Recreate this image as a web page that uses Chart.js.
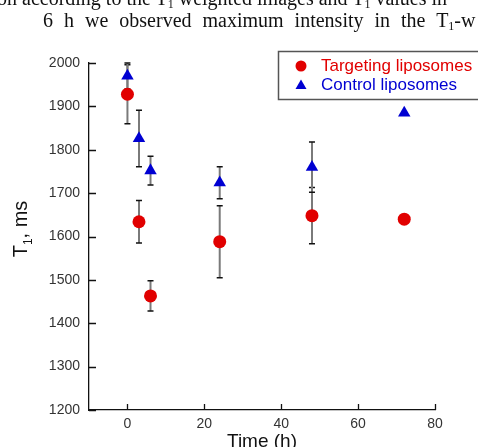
<!DOCTYPE html>
<html>
<head>
<meta charset="utf-8">
<script src="https://cdn.jsdelivr.net/npm/chart.js@4/dist/chart.umd.min.js"></script>
<style>
  html, body { margin: 0; padding: 0; background: #fff; }
  #wrap { position: relative; width: 478px; height: 447px; overflow: hidden; }
  #wrap canvas { position: absolute; left: 0; top: 0; }
  .txt { position: absolute; white-space: nowrap; font-family: "Liberation Serif", "Times New Roman", serif;
         font-size: 20px; color: #111; line-height: 20px; }
  .txt sub { font-size: 12px; vertical-align: -3px; line-height: 0; }
</style>
</head>
<body>
<div id="wrap">
  <canvas id="chart" width="478" height="447"></canvas>
  <div class="txt" id="line1" style="left:-3px; top:-12px;">on according to the T<sub>1</sub> weighted images and T<sub>1</sub> values in</div>
  <div class="txt" id="line2" style="left:43px; top:10px; word-spacing:6px;">6 h we observed maximum intensity in the T<sub>1</sub>-w</div>
</div>
<script>
// --- dados ---
const times = [0, 3, 6, 24, 48, 72];
const targeting = [1928, 1634, 1463, 1588, 1648, 1640];
const targetingErr = [68, 49, 35, 83, 65, 0];
const control = [1970, 1826, 1752, 1724, 1760, 1885];
const controlErr = [30, 65, 33, 37, 58, 0];
const xTicks = [0, 20, 40, 60, 80];
const yTicks = [1200, 1300, 1400, 1500, 1600, 1700, 1800, 1900, 2000];

const RED = "#e10000";
const BLUE = "#0000d2";
const FONT = "'Liberation Sans', Arial, sans-serif";

const toPoints = (ys) => times.map((t, i) => ({ x: t, y: ys[i] }));

// barras de erro, atrás dos marcadores
const errorBars = {
  id: "errorBars",
  beforeDatasetsDraw(chart) {
    const { ctx, scales: { x, y } } = chart;
    const sets = [[targeting, targetingErr], [control, controlErr]];
    ctx.save();
    sets.forEach(([vals, errs]) => {
      vals.forEach((v, i) => {
        if (!errs[i]) return;
        const px = x.getPixelForValue(times[i]);
        const top = y.getPixelForValue(v + errs[i]);
        const bot = y.getPixelForValue(v - errs[i]);
        ctx.strokeStyle = "#7a7a7a";
        ctx.lineWidth = 2;
        ctx.beginPath();
        ctx.moveTo(px, top); ctx.lineTo(px, bot);
        ctx.stroke();
        ctx.strokeStyle = "#111";
        ctx.lineWidth = 1.5;
        ctx.beginPath();
        ctx.moveTo(px - 3, top); ctx.lineTo(px + 3, top);
        ctx.moveTo(px - 3, bot); ctx.lineTo(px + 3, bot);
        ctx.stroke();
      });
    });
    ctx.restore();
  }
};

// ticks para dentro, títulos dos eixos e legenda
const decorations = {
  id: "decorations",
  afterDraw(chart) {
    const { ctx, scales: { x, y }, chartArea: a } = chart;
    ctx.save();
    ctx.strokeStyle = "#111";
    ctx.lineWidth = 1.3;
    ctx.beginPath();
    yTicks.forEach(v => {
      const py = Math.round(y.getPixelForValue(v)) + 0.5;
      ctx.moveTo(a.left, py); ctx.lineTo(a.left + 7, py);
    });
    xTicks.forEach(v => {
      const px = Math.round(x.getPixelForValue(v)) + 0.5;
      ctx.moveTo(px, a.bottom); ctx.lineTo(px, a.bottom - 6);
    });
    ctx.stroke();

    // título x
    ctx.fillStyle = "#111";
    ctx.font = "19px " + FONT;
    ctx.textAlign = "center";
    ctx.textBaseline = "alphabetic";
    ctx.fillText("Time (h)", 262, 447);

    // título y com subscrito
    ctx.translate(27, 229);
    ctx.rotate(-Math.PI / 2);
    ctx.textAlign = "left";
    ctx.font = "20px " + FONT;
    const wT = ctx.measureText("T").width;
    ctx.font = "12px " + FONT;
    const w1 = ctx.measureText("1").width;
    ctx.font = "20px " + FONT;
    const wR = ctx.measureText(", ms").width;
    let sx = -(wT + w1 + wR) / 2;
    ctx.fillText("T", sx, 0);
    ctx.font = "12px " + FONT;
    ctx.fillText("1", sx + wT, 5);
    ctx.font = "20px " + FONT;
    ctx.fillText(", ms", sx + wT + w1, 0);
    ctx.setTransform(1, 0, 0, 1, 0, 0);

    // legenda
    ctx.fillStyle = "#fff";
    ctx.fillRect(278, 51, 210, 49);
    ctx.strokeStyle = "#555";
    ctx.lineWidth = 1.5;
    ctx.strokeRect(278.5, 51.5, 210, 48);
    ctx.fillStyle = RED;
    ctx.beginPath();
    ctx.arc(301, 66, 5.5, 0, Math.PI * 2);
    ctx.fill();
    ctx.fillStyle = BLUE;
    ctx.beginPath();
    ctx.moveTo(301, 79.5); ctx.lineTo(306.5, 89); ctx.lineTo(295.5, 89);
    ctx.closePath();
    ctx.fill();
    ctx.font = "17px " + FONT;
    ctx.textAlign = "left";
    ctx.textBaseline = "middle";
    ctx.fillStyle = RED;
    ctx.fillText(chart.data.datasets[0].label, 321, 66);
    ctx.fillStyle = BLUE;
    ctx.fillText(chart.data.datasets[1].label, 321, 85);
    ctx.restore();
  }
};

new Chart(document.getElementById("chart"), {
  type: "scatter",
  data: {
    datasets: [
      { label: "Targeting liposomes", data: toPoints(targeting), pointStyle: "circle",
        pointRadius: 6.5, backgroundColor: RED, borderColor: RED, borderWidth: 0, clip: false },
      { label: "Control liposomes", data: toPoints(control), pointStyle: "triangle",
        pointRadius: 7.2, backgroundColor: BLUE, borderColor: BLUE, borderWidth: 0, clip: false }
    ]
  },
  options: {
    responsive: false,
    animation: false,
    events: [],
    layout: { padding: { left: 0, top: 63, right: 43, bottom: 0 } },
    plugins: { legend: { display: false }, tooltip: { enabled: false } },
    scales: {
      x: {
        type: "linear", min: -10, max: 80,
        afterBuildTicks: s => { s.ticks = xTicks.map(v => ({ value: v })); },
        afterFit: s => { s.height = 37; },
        grid: { display: false, drawTicks: false },
        border: { display: true, color: "#111", width: 1.3 },
        ticks: { color: "#333", font: { family: FONT, size: 14 }, padding: 6, callback: v => String(v) }
      },
      y: {
        type: "linear", min: 1200, max: 2000,
        afterBuildTicks: s => { s.ticks = yTicks.map(v => ({ value: v })); },
        afterFit: s => { s.width = 89; },
        grid: { display: false, drawTicks: false },
        border: { display: true, color: "#111", width: 1.3 },
        ticks: { color: "#333", font: { family: FONT, size: 14 }, padding: 9, callback: v => String(v) }
      }
    }
  },
  plugins: [errorBars, decorations]
});
</script>
</body>
</html>
